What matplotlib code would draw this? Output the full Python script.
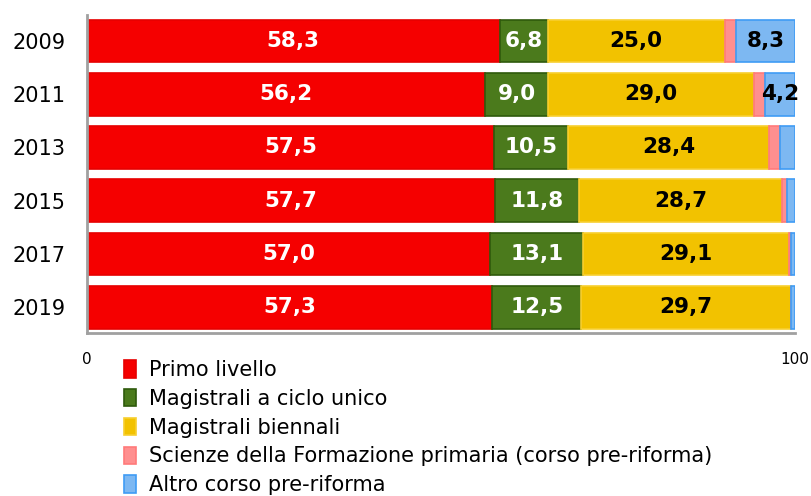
import matplotlib.pyplot as plt
import numpy as np

years = ["2009", "2011", "2013", "2015", "2017", "2019"]
primo = [58.3, 56.2, 57.5, 57.7, 57.0, 57.3]
ciclo_unico = [6.8, 9.0, 10.5, 11.8, 13.1, 12.5]
biennali = [25.0, 29.0, 28.4, 28.7, 29.1, 29.7]
scienze = [1.6, 1.6, 1.5, 0.7, 0.2, 0.0]
altro = [8.3, 4.2, 2.1, 1.1, 0.6, 0.5]

series = [
    ("Primo livello", primo, "#f50000", "#e60000", "white"),
    ("Magistrali a ciclo unico", ciclo_unico, "#4b7a1c", "#2f5a0c", "white"),
    ("Magistrali biennali", biennali, "#f2c200", "#f7cf30", "black"),
    ("Scienze della Formazione primaria (corso pre-riforma)", scienze, "#ff8f8f", "#ff7a7a", "black"),
    ("Altro corso pre-riforma", altro, "#7db8f2", "#3f9cf5", "black"),
]

fig = plt.figure(figsize=(8.11, 4.96), dpi=100)
ax = fig.add_axes([0.107, 0.329, 0.873, 0.641])

y = np.arange(len(years))
left = np.zeros(len(years))
for label, vals, color, edge, tcolor in series:
    vals = np.array(vals)
    ax.barh(y, vals, left=left, height=0.8, color=color, edgecolor=edge,
            linewidth=1.2, label=label)
    # only the wide segments get a value label
    for yi, (l, v) in enumerate(zip(left, vals)):
        if v >= 4:
            ax.text(l + v / 2, yi, f"{v:.1f}".replace(".", ","), ha="center",
                    va="center", color=tcolor, fontsize=15.5, fontweight="bold")
    left += vals

ax.set_xlim(0, 100)
ax.set_ylim(5.48, -0.49)
ax.set_yticks(y)
ax.set_yticklabels(years, fontsize=15)
ax.set_xticks([0, 100])
ax.set_xticklabels(["0", "100"], fontsize=11)
ax.tick_params(axis="x", length=0, pad=14)
ax.tick_params(axis="y", length=0, pad=15)
for side in ["top", "right"]:
    ax.spines[side].set_visible(False)
ax.spines["left"].set_color("#a0a0a0")
ax.spines["left"].set_linewidth(2)
ax.spines["bottom"].set_color("#a0a0a0")
ax.spines["bottom"].set_linewidth(2)

fig.legend(loc="upper left", bbox_to_anchor=(0.14, 0.295), frameon=False,
           fontsize=15, handlelength=0.6, handleheight=0.9, handletextpad=0.6,
           labelspacing=0.42, borderpad=0)

fig.savefig("out.png", dpi=100)
